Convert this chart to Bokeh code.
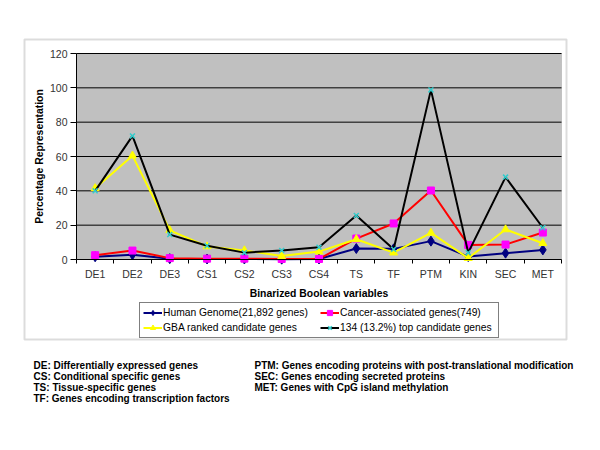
from bokeh.plotting import figure
from bokeh.models import FixedTicker, Legend, LegendItem, Label, BoxAnnotation
from bokeh.embed import file_html
from bokeh.resources import INLINE

categories = ["DE1", "DE2", "DE3", "CS1", "CS2", "CS3", "CS4", "TS", "TF", "PTM", "KIN", "SEC", "MET"]
human_genome = [1.6, 2.8, 0.5, 0.3, 0.3, 0.2, 0.3, 6.4, 6.2, 10.7, 1.7, 3.7, 5.6]
cancer_assoc = [2.5, 5.2, 0.8, 0.5, 0.5, 0.3, 0.3, 12.2, 21.0, 40.2, 8.5, 8.7, 15.7]
gba_ranked = [41.5, 60.5, 17.0, 7.6, 5.3, 2.0, 4.6, 11.8, 4.0, 15.5, 0.8, 17.5, 9.5]
top_candidates = [40.0, 72.0, 14.5, 8.0, 4.0, 5.3, 7.2, 25.6, 6.0, 98.8, 4.0, 48.0, 18.5]
series_names = ["Human Genome(21,892 genes)", "Cancer-associated genes(749)",
                "GBA ranked candidate genes", "134 (13.2%) top candidate genes"]
y_ticks = [0, 20, 40, 60, 80, 100, 120]
notes_left = ["DE: Differentially expressed genes", "CS: Conditional specific genes",
              "TS: Tissue-specific genes", "TF: Genes encoding transcription factors"]
notes_right = ["PTM: Genes encoding proteins with post-translational modification",
               "SEC: Genes encoding secreted proteins", "MET: Genes with CpG island methylation"]

FONT = "Liberation Sans"
W, H = 592, 442
# plot-area placement on the canvas (pixels)
PL, PR, PT, PB = 76, 561, 53, 259
n = len(categories)
ymax = y_ticks[-1]
xs = [i + 0.5 for i in range(n)]

sx = (PR - PL) / n
sy = (PB - PT) / ymax
x_range = (-PL / sx, n + (W - PR) / sx)
y_range = (-(H - PB) / sy, ymax + PT / sy)

p = figure(width=W, height=H, x_range=x_range, y_range=y_range,
           output_backend="svg", toolbar_location=None,
           min_border=0, min_border_left=0, min_border_right=0,
           min_border_top=0, min_border_bottom=0)
p.background_fill_color = "white"
p.border_fill_color = "white"
p.outline_line_color = None
p.grid.visible = False

# outer chart box
p.add_layout(BoxAnnotation(left=24, right=566, top=H - 39, bottom=H - 339,
                           left_units="screen", right_units="screen",
                           top_units="screen", bottom_units="screen",
                           fill_color="white", fill_alpha=1, line_color="#8c8c8c",
                           line_width=2, level="underlay"))
# plot area
p.add_layout(BoxAnnotation(left=0, right=n, bottom=0, top=ymax,
                           fill_color="#C0C0C0", fill_alpha=1, line_color="#808080",
                           line_width=1, level="underlay"))
# horizontal gridlines
p.segment(x0=0, x1=n, y0=y_ticks[1:], y1=y_ticks[1:], line_color="black", line_width=1)

p.xaxis.fixed_location = 0
p.yaxis.fixed_location = 0
p.xaxis.bounds = (0, n)
p.yaxis.bounds = (0, ymax)
p.yaxis.ticker = FixedTicker(ticks=y_ticks)
p.xaxis.ticker = FixedTicker(ticks=xs, minor_ticks=list(range(n + 1)))
p.xaxis.major_label_overrides = {x: c for x, c in zip(xs, categories)}
p.xaxis.major_tick_line_color = None
p.xaxis.major_tick_out = 0
p.xaxis.major_tick_in = 0
p.xaxis.minor_tick_line_color = "black"
p.xaxis.minor_tick_out = 4
p.xaxis.minor_tick_in = 0
p.xaxis.major_label_standoff = 4

p.yaxis.minor_tick_line_color = None
p.yaxis.major_tick_out = 6
p.yaxis.major_tick_in = 0
p.yaxis.major_label_standoff = 3

for ax in (p.xaxis, p.yaxis):
    ax.axis_line_color = "black"
    ax.major_label_text_font = FONT
    ax.major_label_text_font_size = "10.5px"
    ax.major_label_text_color = "#333333"
    ax.axis_label_text_font = FONT
    ax.axis_label_text_font_size = "10.4px"
    ax.axis_label_text_font_style = "bold"
    ax.axis_label_text_color = "black"

p.xaxis.axis_label_standoff = 5
p.yaxis.axis_label_standoff = 2

p.xaxis.axis_label = "Binarized Boolean variables"
p.yaxis.axis_label = "Percentage Representation"

l1 = p.line(xs, human_genome, line_color="#000080", line_width=2)
m1 = p.scatter(xs, human_genome, marker="diamond", size=10, fill_color="#000080", line_color="#000080")
l2 = p.line(xs, cancer_assoc, line_color="#FF0000", line_width=2)
m2 = p.scatter(xs, cancer_assoc, marker="square", size=7, fill_color="#FF00FF", line_color="#FF00FF")
l3 = p.line(xs, gba_ranked, line_color="#FFFF00", line_width=2)
m3 = p.scatter(xs, gba_ranked, marker="triangle", size=8, fill_color="#FFFF00", line_color="#FFFF00")
l4 = p.line(xs, top_candidates, line_color="black", line_width=2)
m4 = p.scatter(xs, top_candidates, marker="x", size=7, line_color="#33CCCC", line_width=1.5)

items = [LegendItem(label=series_names[0], renderers=[l1, m1]),
         LegendItem(label=series_names[1], renderers=[l2, m2]),
         LegendItem(label=series_names[2], renderers=[l3, m3]),
         LegendItem(label=series_names[3], renderers=[l4, m4])]
legend = Legend(items=items, location=(139, H - 338), orientation="horizontal", ncols=2,
                border_line_color="black", border_line_width=1, background_fill_color="white",
                background_fill_alpha=1, padding=3, spacing=2, margin=0,
                glyph_width=19, glyph_height=13, label_height=13, label_standoff=1,
                label_width=155, label_text_font=FONT, label_text_font_size="10.3px",
                label_text_color="black")
p.add_layout(legend, "center")

baselines = [365, 376, 387, 398]
for t, yb in zip(notes_left, baselines):
    p.add_layout(Label(x=33, y=H - yb, x_units="screen", y_units="screen", text=t,
                       text_font=FONT, text_font_size="10px", text_font_style="bold",
                       text_baseline="alphabetic", text_color="black"))
for t, yb in zip(notes_right, baselines):
    p.add_layout(Label(x=254, y=H - yb, x_units="screen", y_units="screen", text=t,
                       text_font=FONT, text_font_size="10px", text_font_style="bold",
                       text_baseline="alphabetic", text_color="black"))

open("out.html", "w").write(file_html(p, INLINE))
